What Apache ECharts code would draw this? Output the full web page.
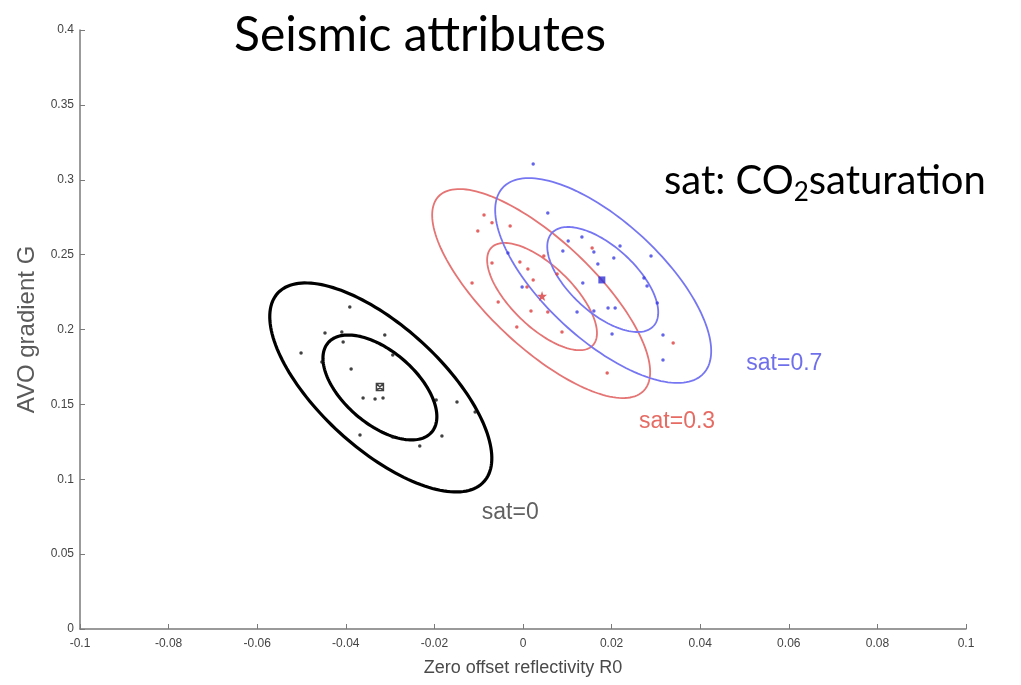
<!DOCTYPE html>
<html>
<head>
<meta charset="utf-8">
<script src="https://cdn.jsdelivr.net/npm/echarts@6/dist/echarts.min.js"></script>
<style>html,body{margin:0;padding:0;background:#fff;}#chart{width:1021px;height:685px;}</style>
</head>
<body>
<div id="chart"></div>
<script>
// ---- data ----
const xTicks = [-0.1, -0.08, -0.06, -0.04, -0.02, 0, 0.02, 0.04, 0.06, 0.08, 0.1];
const yTicks = [0, 0.05, 0.1, 0.15, 0.2, 0.25, 0.3, 0.35, 0.4];

const sat0Points = [
  [-0.0391, 0.2150], [-0.0447, 0.1977], [-0.0409, 0.1983], [-0.0406, 0.1917], [-0.0312, 0.1963],
  [-0.0501, 0.1843], [-0.0454, 0.1783], [-0.0294, 0.1830], [-0.0388, 0.1736], [-0.0361, 0.1543],
  [-0.0334, 0.1536], [-0.0316, 0.1543], [-0.0196, 0.1529], [-0.0149, 0.1516], [-0.0108, 0.1449],
  [-0.0368, 0.1295], [-0.0294, 0.1282], [-0.0233, 0.1222], [-0.0183, 0.1289]
];
const sat03Points = [
  [-0.0088, 0.2765], [-0.0070, 0.2713], [-0.0029, 0.2691], [-0.0102, 0.2658], [-0.0070, 0.2444],
  [-0.0007, 0.2451], [0.0011, 0.2404], [0.0047, 0.2491], [0.0077, 0.2371], [0.0023, 0.2331],
  [-0.0115, 0.2311], [0.0009, 0.2284], [-0.0056, 0.2184], [0.0018, 0.2124], [0.0056, 0.2117],
  [-0.0014, 0.2017], [0.0088, 0.1983], [0.0156, 0.2544], [0.0339, 0.1910], [0.0190, 0.1710]
];
const sat07Points = [
  [0.0023, 0.3105], [0.0056, 0.2778], [0.0102, 0.2591], [0.0090, 0.2524], [0.0133, 0.2618],
  [0.0160, 0.2518], [-0.0034, 0.2511], [0.0219, 0.2558], [0.0205, 0.2477], [0.0169, 0.2437],
  [0.0135, 0.2311], [-0.0002, 0.2284], [0.0289, 0.2491], [0.0273, 0.2344], [0.0280, 0.2290],
  [0.0303, 0.2177], [0.0122, 0.2117], [0.0160, 0.2124], [0.0192, 0.2144], [0.0208, 0.2144],
  [0.0201, 0.1970], [0.0316, 0.1963], [0.0316, 0.1796]
];
const means = [[-0.0323, 0.1616], [0.0043, 0.2224], [0.0178, 0.2331]];

// ellipses: [centerX, centerY, majorX, majorY, minorX, minorY]
const sat0Ellipses  = [[-0.0321, 0.1613, 0.02327, -0.06296, 0.00931, 0.03011],
                       [-0.0323, 0.1613, 0.01169, -0.02984, 0.00535, 0.01835]];
const sat03Ellipses = [[0.0041, 0.2240, 0.02318, -0.06483, 0.00825, 0.02581],
                       [0.0043, 0.2220, 0.01143, -0.03266, 0.00480, 0.01470]];
const sat07Ellipses = [[0.0181, 0.2327, 0.02266, -0.06206, 0.00900, 0.02876],
                       [0.0180, 0.2334, 0.01147, -0.03108, 0.00503, 0.01625]];

const groupLabels = ['sat=0', 'sat=0.3', 'sat=0.7'];
const labelPositions = [[-0.0093, 0.0775], [0.0262, 0.1385], [0.0504, 0.1775]];

const titleText = 'Seismic attributes';
const xName = 'Zero offset reflectivity R0';
const yName = 'AVO gradient G';

// ---- chart ----
const colors = { s0: '#111111', s03: '#e03c3c', s07: '#3c3ce6' };
const ellColors = { s0: '#000000', s03: '#e57474', s07: '#7676f2' };
const labelColors = ['#383838', '#e0463c', '#4b4be6'];

function ellipseSeries(data, color, width) {
  return {
    type: 'custom',
    silent: true,
    renderItem: function (params, api) {
      const cx = api.value(0), cy = api.value(1), ax = api.value(2), ay = api.value(3), bx = api.value(4), by = api.value(5);
      const pts = [];
      const n = 160;
      for (let k = 0; k <= n; k++) {
        const t = 2 * Math.PI * k / n;
        pts.push(api.coord([cx + ax * Math.cos(t) + bx * Math.sin(t), cy + ay * Math.cos(t) + by * Math.sin(t)]));
      }
      return { type: 'polyline', shape: { points: pts }, style: { fill: null, stroke: color, lineWidth: width } };
    },
    encode: { x: 0, y: 1 },
    data: data,
    z: 2
  };
}

function dots(data, color) {
  return { type: 'scatter', data: data, symbol: 'circle', symbolSize: 3.5, itemStyle: { color: color }, silent: true, z: 3 };
}

const axisFont = "'Liberation Sans Narrow', 'Liberation Sans', sans-serif";

const option = {
  animation: false,
  backgroundColor: '#ffffff',
  title: {
    text: titleText,
    left: 229, top: 7,
    textStyle: { fontFamily: 'Lato, sans-serif', fontSize: 48, fontWeight: 'normal', color: '#000' }
  },
  graphic: [{
    type: 'text', left: 664, top: 161,
    style: {
      text: '{a|sat: CO}{s|2}{a|saturation}',
      rich: {
        a: { fontFamily: 'Lato, sans-serif', fontSize: 40, color: '#000' },
        s: { fontFamily: 'Lato, sans-serif', fontSize: 26, color: '#000', padding: [24, 0, 0, 0] }
      }
    }
  }],
  grid: { left: 80, right: 55, top: 30, bottom: 56, containLabel: false },
  xAxis: {
    type: 'value', min: xTicks[0], max: xTicks[xTicks.length - 1], interval: 0.02,
    name: xName, nameLocation: 'middle', nameGap: 30,
    nameTextStyle: { fontFamily: axisFont, fontSize: 18, color: '#4a4a4a' },
    axisLine: { show: true, onZero: false, lineStyle: { color: '#7a7a7a', width: 1.5 } },
    axisTick: { show: true, inside: true, length: 5, lineStyle: { color: '#7a7a7a' } },
    axisLabel: { fontFamily: axisFont, fontSize: 12, color: '#444', margin: 9 },
    splitLine: { show: false }
  },
  yAxis: {
    type: 'value', min: yTicks[0], max: yTicks[yTicks.length - 1], interval: 0.05,
    name: yName, nameLocation: 'middle', nameGap: 40,
    nameTextStyle: { fontFamily: axisFont, fontSize: 24, color: '#5a5a5a' },
    axisLine: { show: true, onZero: false, lineStyle: { color: '#7a7a7a', width: 1.5 } },
    axisTick: { show: true, inside: true, length: 5, lineStyle: { color: '#7a7a7a' } },
    axisLabel: { fontFamily: axisFont, fontSize: 12, color: '#444', margin: 6 },
    splitLine: { show: false }
  },
  series: [
    ellipseSeries(sat0Ellipses, ellColors.s0, 3.2),
    ellipseSeries(sat03Ellipses, ellColors.s03, 1.8),
    ellipseSeries(sat07Ellipses, ellColors.s07, 1.8),
    dots(sat0Points, colors.s0),
    dots(sat03Points, colors.s03),
    dots(sat07Points, colors.s07),
    { type: 'scatter', data: [means[0]], symbol: 'path://M0,0 L10,10 M10,0 L0,10 M0,0 L10,0 L10,10 L0,10 Z', symbolSize: 7,
      itemStyle: { color: 'none', borderColor: '#111', borderWidth: 1.5 }, z: 4, silent: true },
    { type: 'scatter', data: [means[1]], symbol: 'path://M5,0 L6.2,3.8 L10,3.8 L7,6.2 L8.1,10 L5,7.7 L1.9,10 L3,6.2 L0,3.8 L3.8,3.8 Z', symbolSize: 10,
      itemStyle: { color: '#d83a3a' }, z: 4, silent: true },
    { type: 'scatter', data: [means[2]], symbol: 'rect', symbolSize: 7,
      itemStyle: { color: '#2f2fd8' }, z: 4, silent: true },
    { type: 'scatter', silent: true, symbolSize: 0, z: 5,
      data: labelPositions.map(function (p, i) {
        return { value: p, name: groupLabels[i], label: { color: labelColors[i] } };
      }),
      label: {
        show: true, position: 'right', distance: 0, formatter: '{b}',
        fontFamily: "'Liberation Sans', sans-serif", fontSize: 23, color: '#333'
      },
      itemStyle: { color: 'transparent' }
    }
  ]
};

const chart = echarts.init(document.getElementById('chart'), null, { renderer: 'canvas' });
chart.setOption(option);
</script>
</body>
</html>
